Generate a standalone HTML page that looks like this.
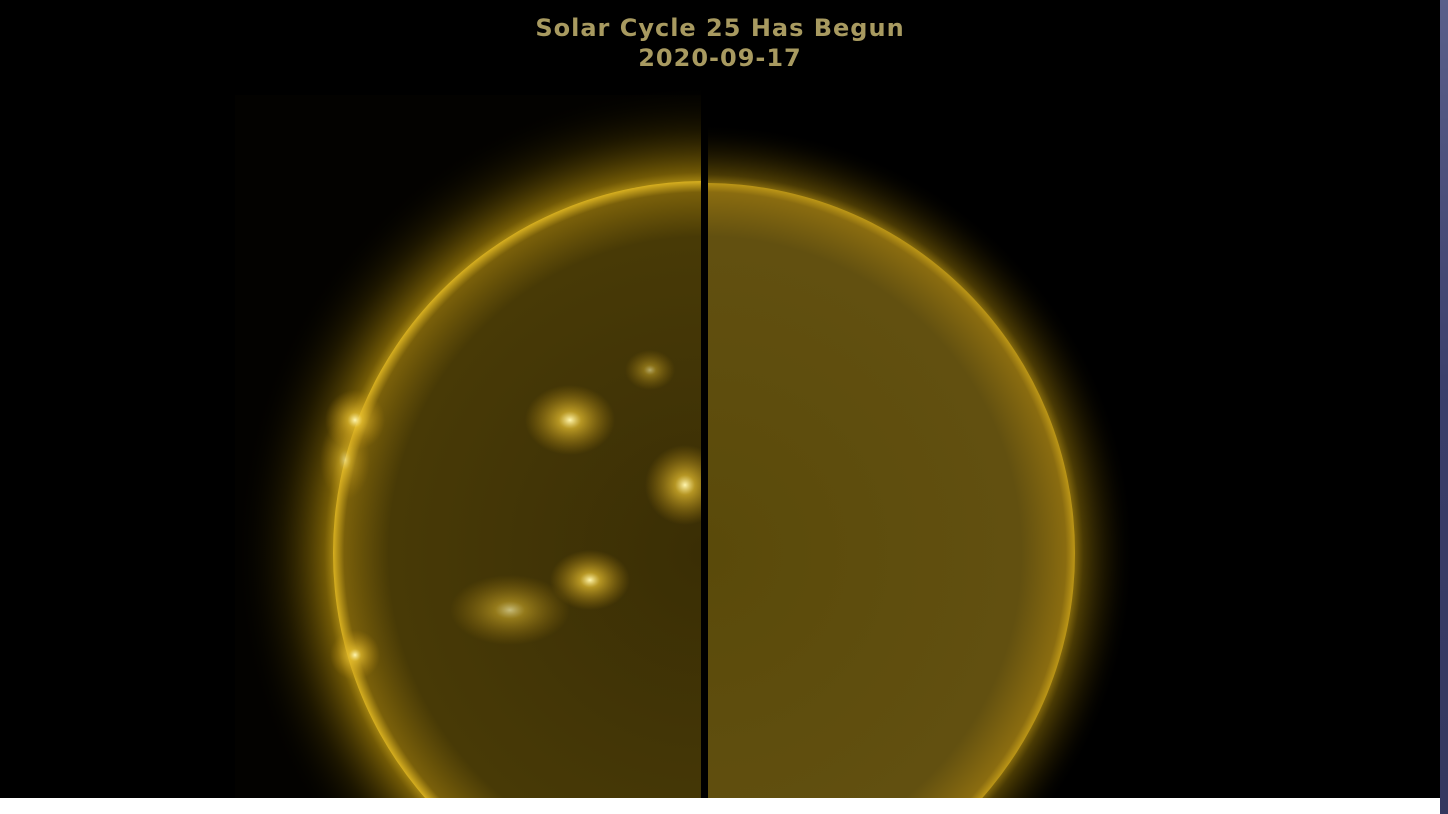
<!DOCTYPE html>
<html><head><meta charset="utf-8">
<style>
html,body{margin:0;padding:0;width:1448px;height:814px;overflow:hidden;background:#fff;}
#stage{position:absolute;left:0;top:0;width:1440px;height:798px;background:#000;overflow:hidden;}
#strip{position:absolute;left:1440px;top:0;width:8px;height:814px;background:linear-gradient(#5a5f8a,#3a3e6a 50%,#34385f);}
.title{position:absolute;left:0;width:1440px;text-align:center;color:#a89a60;font-family:"DejaVu Sans","Liberation Sans",sans-serif;font-size:24px;font-weight:bold;letter-spacing:1px;}
</style></head><body>
<div id="stage">
<svg width="1440" height="798" style="position:absolute;left:0;top:0;display:block">
<defs>
<radialGradient id="glowL" cx="705" cy="553" r="470" gradientUnits="userSpaceOnUse">
<stop offset="0.77" stop-color="#e0b820"/>
<stop offset="0.81" stop-color="#a07e08" stop-opacity="0.7"/>
<stop offset="0.9" stop-color="#4a3a00" stop-opacity="0.35"/>
<stop offset="1" stop-color="#000" stop-opacity="0"/>
</radialGradient>
<radialGradient id="glowR" cx="705" cy="553" r="430" gradientUnits="userSpaceOnUse">
<stop offset="0.84" stop-color="#c8a018"/>
<stop offset="0.88" stop-color="#7a6006" stop-opacity="0.6"/>
<stop offset="0.95" stop-color="#3a2c00" stop-opacity="0.25"/>
<stop offset="1" stop-color="#000" stop-opacity="0"/>
</radialGradient>
<radialGradient id="diskL" cx="705" cy="553" r="372" gradientUnits="userSpaceOnUse">
<stop offset="0" stop-color="#3a2e05"/>
<stop offset="0.85" stop-color="#483a06"/>
<stop offset="0.97" stop-color="#7a600a"/>
<stop offset="1" stop-color="#d8b020"/>
</radialGradient>
<radialGradient id="diskR" cx="705" cy="553" r="372" gradientUnits="userSpaceOnUse">
<stop offset="0" stop-color="#5a4a0a"/>
<stop offset="0.85" stop-color="#625010"/>
<stop offset="0.97" stop-color="#8a6c10"/>
<stop offset="1" stop-color="#c8a018"/>
</radialGradient>
<radialGradient id="spot" r="0.5"><stop offset="0" stop-color="#fff6b0"/><stop offset="0.25" stop-color="#e8c030" stop-opacity="0.7"/><stop offset="1" stop-color="#c09010" stop-opacity="0"/></radialGradient>
<clipPath id="cl"><rect x="235" y="0" width="466" height="798"/></clipPath>
<clipPath id="cr"><rect x="708" y="0" width="732" height="798"/></clipPath>
</defs>
<g clip-path="url(#cl)">
<rect x="235" y="95" width="466" height="703" fill="#030200"/>
<circle cx="705" cy="553" r="470" fill="url(#glowL)"/>
<circle cx="705" cy="553" r="372" fill="url(#diskL)"/>
<ellipse cx="570" cy="420" rx="45" ry="35" fill="url(#spot)"/>
<ellipse cx="685" cy="485" rx="40" ry="40" fill="url(#spot)"/>
<ellipse cx="590" cy="580" rx="40" ry="30" fill="url(#spot)"/>
<ellipse cx="510" cy="610" rx="60" ry="35" fill="url(#spot)" opacity="0.7"/>
<ellipse cx="355" cy="420" rx="30" ry="30" fill="url(#spot)"/>
<ellipse cx="355" cy="655" rx="25" ry="25" fill="url(#spot)"/>
<ellipse cx="345" cy="460" rx="25" ry="40" fill="url(#spot)" opacity="0.6"/>
<ellipse cx="650" cy="370" rx="25" ry="20" fill="url(#spot)" opacity="0.6"/>
</g>
<g clip-path="url(#cr)">
<circle cx="705" cy="553" r="430" fill="url(#glowR)"/>
<circle cx="705" cy="553" r="370" fill="url(#diskR)"/>
</g>
<rect x="701" y="95" width="7" height="703" fill="#000"/>
</svg>
<div class="title" style="top:14px">Solar Cycle 25 Has Begun</div>
<div class="title" style="top:44px">2020-09-17</div>
</div>
<div id="strip"></div>
</body></html>
